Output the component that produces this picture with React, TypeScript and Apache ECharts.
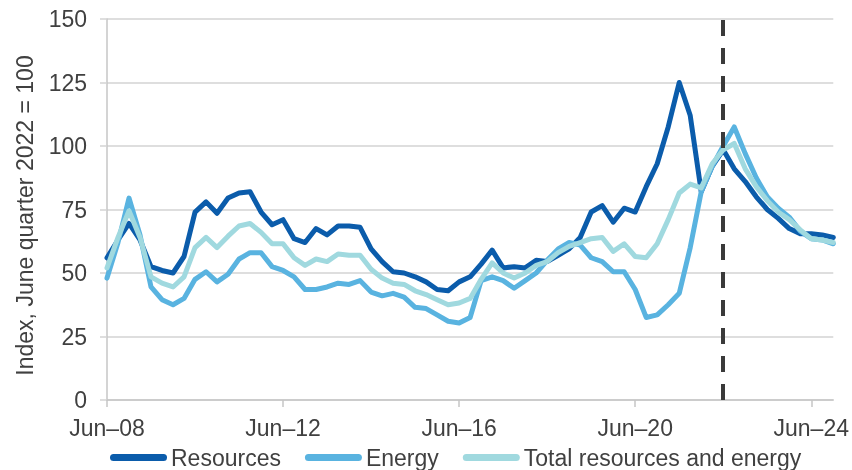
import React, { useEffect, useRef } from "react";
import * as echarts from "echarts";

const quarterMonths = ["Jun", "Sep", "Dec", "Mar"];
const categories: string[] = [];
for (let i = 0; i < 67; i++) {
  const m = quarterMonths[i % 4];
  const year = 2008 + Math.floor((i + 2) / 4);
  categories.push(`${m}–${String(year % 100).padStart(2, "0")}`);
}

const resources = [
  56, 63, 69.5, 63, 52.5, 51, 50, 56.5, 74, 78, 73.5, 79.5, 81.5, 82, 74, 69,
  71, 63.5, 62, 67.5, 65, 68.5, 68.5, 68, 59.5, 54.5, 50.5, 50, 48.5, 46.5, 43.5, 43,
  46.5, 48.5, 53.5, 59, 52, 52.5, 52, 55, 54.5, 57, 59.5, 64, 74, 76.5, 70, 75.5,
  74, 84, 93, 107.5, 125, 112, 82, 92, 98.5, 91, 86, 80, 75, 71.5, 67.5, 65.5,
  65.5, 65, 64,
];

const energy = [
  48, 62, 79.5, 65, 44.5, 39.5, 37.5, 40, 47.5, 50.5, 46.5, 49.5, 55.5, 58, 58, 52.5,
  51, 48.5, 43.5, 43.5, 44.5, 46, 45.5, 47, 42.5, 41, 42, 40.5, 36.5, 36, 33.5, 31,
  30.3, 32.5, 47, 48.5, 47, 44, 47, 50, 55, 59.5, 62, 61, 56, 54.5, 50.5, 50.5,
  43.5, 32.5, 33.5, 37.5, 42, 60, 82, 92, 100, 107.5, 97, 87.5, 80, 75.5, 72, 66.5,
  63.5, 63, 61.5,
];

const total = [
  52, 64, 74.5, 64, 48.5, 46, 44.5, 48.5, 60, 64, 60, 64.5, 68.5, 69.5, 66, 61.5,
  61.5, 56, 53, 55.5, 54.5, 57.5, 57, 57, 51.5, 48, 46, 45.5, 43, 41.5, 39.5, 37.5,
  38.2, 40, 47.5, 54, 50, 48, 50, 53, 54.5, 58, 60.5, 62, 63.5, 64, 58.5, 61.5,
  56.5, 56, 61.5, 71, 81.5, 85, 83.5, 93, 98.5, 101, 91, 84, 78.5, 74, 71, 67,
  63.5, 63, 62,
];

const seriesNames = ["Resources", "Energy", "Total resources and energy"];
const seriesColors = ["#0B5CAB", "#59B3E0", "#A0D9DF"];
const markerCategory = "Jun–22";
const yTicks = { min: 0, max: 150, interval: 25 };

const FONT = "'Liberation Sans', Arial, sans-serif";
const TEXT = "#404040";
const GRID = "#D3D3D3";
const capsule =
  "path://M3.5,0 H53.5 A3.5,3.5 0 0 1 53.5,7 H3.5 A3.5,3.5 0 0 1 3.5,0 Z";

export default function App() {
  const ref = useRef<HTMLDivElement>(null);

  useEffect(() => {
    if (!ref.current) return;
    const chart = echarts.init(ref.current, undefined, { renderer: "svg" });
    const dataSets = [resources, energy, total];
    chart.setOption({
      animation: false,
      textStyle: { fontFamily: FONT },
      grid: { left: 107, right: 14, top: 19, bottom: 70, containLabel: false },
      legend: {
        left: 110,
        top: 446,
        padding: 0,
        itemWidth: 57,
        itemHeight: 7,
        itemGap: 24,
        icon: capsule,
        textStyle: { fontSize: 23, color: TEXT, fontFamily: FONT, padding: [0, 0, 0, -1] },
        data: seriesNames,
      },
      xAxis: {
        type: "category",
        data: categories,
        boundaryGap: false,
        axisLine: { lineStyle: { color: "#C6C6C6", width: 1.5 } },
        axisTick: { show: true, interval: 15, length: 7, lineStyle: { color: "#C6C6C6", width: 1.5 } },
        axisLabel: { interval: 15, fontSize: 23, color: TEXT, margin: 16, fontFamily: FONT },
        splitLine: { show: false },
      },
      yAxis: {
        type: "value",
        min: yTicks.min,
        max: yTicks.max,
        interval: yTicks.interval,
        name: "Index, June quarter 2022 = 100",
        nameLocation: "middle",
        nameGap: 71,
        nameTextStyle: { fontSize: 23, color: TEXT, fontFamily: FONT, padding: [0, 12, 0, 0] },
        axisLine: { show: true, lineStyle: { color: "#C6C6C6", width: 1.5 } },
        axisTick: { show: true, length: 7, lineStyle: { color: GRID, width: 1.5 } },
        axisLabel: { fontSize: 23, color: TEXT, margin: 20, fontFamily: FONT },
        splitLine: { lineStyle: { color: GRID, width: 1.5 } },
      },
      series: seriesNames.map((name, idx) => ({
        name,
        type: "line",
        data: dataSets[idx],
        showSymbol: false,
        symbol: "none",
        lineStyle: { color: seriesColors[idx], width: 5, cap: "round", join: "round" },
        itemStyle: { color: seriesColors[idx] },
        z: 2 + idx,
        markLine:
          idx === 0
            ? {
                silent: true,
                symbol: "none",
                label: { show: false },
                lineStyle: { color: "#3A3A3A", width: 4, type: [16, 12] },
                data: [{ xAxis: markerCategory }],
              }
            : undefined,
      })),
    });
    return () => chart.dispose();
  }, []);

  return (
    <div
      ref={ref}
      style={{ position: "fixed", left: 0, top: 0, width: 852, height: 470 }}
    />
  );
}
